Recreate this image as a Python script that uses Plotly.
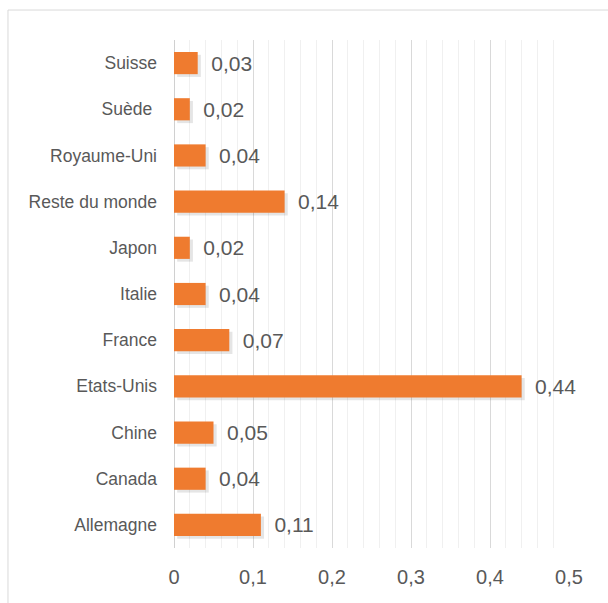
import plotly.graph_objects as go

countries = ["Allemagne", "Canada", "Chine", "Etats-Unis", "France", "Italie",
             "Japon", "Reste du monde", "Royaume-Uni", "Suède\u00a0", "Suisse"]
values = [0.11, 0.04, 0.05, 0.44, 0.07, 0.04, 0.02, 0.14, 0.04, 0.02, 0.03]
x_ticks = [0, 0.1, 0.2, 0.3, 0.4, 0.5]
x_tick_labels = ["0", "0,1", "0,2", "0,3", "0,4", "0,5"]

FONT = "Liberation Sans, Arial, sans-serif"
GREY = "#595959"

fig = go.Figure()
# soft shadow
fig.add_trace(go.Bar(
    y=countries, x=values, orientation="h", base=0.004,
    width=0.48, offset=-0.30,
    marker=dict(color="rgba(0,0,0,0.10)", line=dict(width=0)),
    hoverinfo="skip", showlegend=False,
))
fig.add_trace(go.Bar(
    y=countries, x=values, orientation="h",
    width=0.48, offset=-0.24,
    marker=dict(color="#EF7B2F", line=dict(width=0)),
    texttemplate="\u2002%{x:.2f}", textposition="outside",
    textfont=dict(family=FONT, size=21, color=GREY),
    constraintext="none", cliponaxis=False, showlegend=False,
))

fig.update_layout(
    width=608, height=603,
    margin=dict(l=174, r=39, t=40, b=55),
    paper_bgcolor="white", plot_bgcolor="white",
    barmode="overlay", separators=", ",
    font=dict(family=FONT, color=GREY),
    shapes=[dict(type="rect", xref="paper", yref="paper",
                 x0=-0.4203, x1=1.13, y0=-0.135, y1=1.059,
                 line=dict(color="#D9D9D9", width=1), layer="below")],
)
fig.update_xaxes(
    range=[0, 0.5], tickvals=x_ticks, ticktext=x_tick_labels,
    tickfont=dict(family=FONT, size=20, color=GREY),
    showgrid=True, gridcolor="#D9D9D9", gridwidth=1,
    zeroline=True, zerolinecolor="#D0D0D0", zerolinewidth=1,
    minor=dict(dtick=0.02, showgrid=True, gridcolor="#F0F0F0", gridwidth=1),
    showline=False, ticks="", ticklabelstandoff=15,
)
fig.update_yaxes(
    tickfont=dict(family=FONT, size=17.5, color=GREY),
    showgrid=False, showline=False, ticks="", ticklabelstandoff=16,
    range=[-0.5, 10.5],
)

fig.write_html("out.html")
